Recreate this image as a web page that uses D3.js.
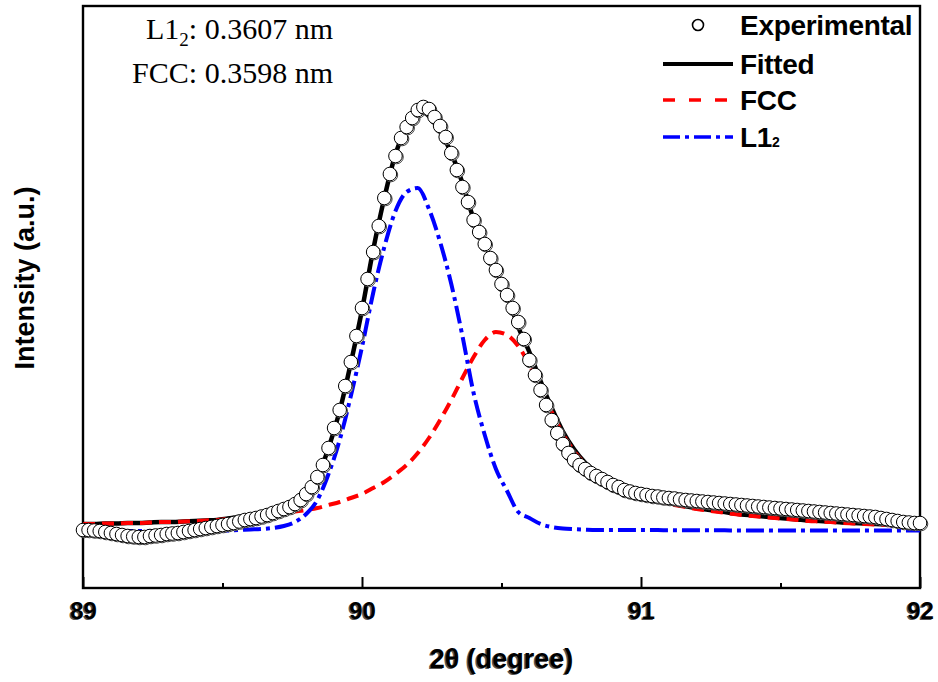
<!DOCTYPE html>
<html>
<head>
<meta charset="utf-8">
<script src="https://cdn.jsdelivr.net/npm/d3@7/dist/d3.min.js"></script>
<style>
  body { margin: 0; background: #fff; }
  svg text { font-family: "Liberation Sans", Arial, sans-serif; }
</style>
</head>
<body>
<div id="chart"></div>
<script>
// measured pattern: 2theta grid starts at 89 with a 0.02 deg step
const expStart = 89, expStep = 0.02;
const experimental = [
  1, 1, 0.5, 0, -1, -2, -3, -4, -5, -5.5,
  -6, -6, -5, -4.5, -4, -3, -2.5, -2, -1, 0,
  1, 2, 3, 4, 5, 6, 7, 8, 9.5, 11,
  12, 13, 14.5, 16, 18, 20, 22, 24, 27, 31,
  37, 44, 54, 66, 83, 103, 121, 145, 169, 195,
  223, 252, 279, 305, 333, 357, 375, 393, 404, 413,
  421, 424, 422, 414, 405, 394, 378, 361, 344, 329,
  311, 299, 287, 273, 261, 247, 236, 223, 209, 192,
  171, 156, 141, 126, 111, 98, 87, 78, 71, 66,
  62, 58, 55, 52, 49, 46, 44, 41, 39.5, 38,
  37, 36, 35, 34.5, 33.5, 33, 32.5, 31.5, 31, 30.5,
  30, 29.5, 29, 28.5, 28, 27.5, 27, 26.5, 26, 25.5,
  25, 24.5, 24, 23.5, 23, 22.5, 22, 21.5, 21, 20.5,
  20, 19.5, 19, 18.5, 18, 17.5, 17, 16.5, 16, 15.5,
  15, 14.5, 14, 13, 12, 11, 10, 9, 8.5, 8, 8
];

// fitted components on a 0.04 deg grid
const fitStart = 89, fitStep = 0.04;
const fccCurve = [
  7, 7, 7.5, 7.5, 8, 8, 8.5, 9, 9, 9.5,
  10, 10.5, 11, 12, 13, 14, 15, 16.5, 18, 19.5,
  21, 23, 26, 29, 33, 37, 43, 49, 57, 66,
  78, 93, 111, 131, 153, 174, 191, 199, 196, 185,
  166, 143, 119, 97, 80, 67, 57, 49, 43, 38,
  34, 31, 28.5, 26, 24, 22, 20.5, 19, 17.5, 16,
  15, 14, 13, 12, 11, 10, 9.5, 9, 8, 7.5,
  7, 6.5, 6, 5.5, 5, 4.5
];
const l12Curve = [
  0, 0, 0, 0, 0, 0, 0, 0, 0, 0,
  0, 0, 0, 0.5, 1, 1.5, 2, 3, 5, 9,
  17, 31, 57, 91, 135, 184, 238, 284, 320, 339,
  343, 322, 289, 247, 195, 138, 96, 62, 40, 19,
  13, 7, 4, 2.5, 1.8, 1.3, 1, 1, 1, 1,
  1, 1, 0.8, 0.8, 0.8, 0.7, 0.7, 0.7, 0.6, 0.6,
  0.6, 0.6, 0.5, 0.5, 0.5, 0.5, 0.5, 0.5, 0.5, 0.5,
  0.5, 0.5, 0.5, 0.5, 0.5, 0.5
];

const xTicks = [89, 90, 91, 92];
const xMinorTicks = [89.5, 90.5, 91.5];
const latticeNotes = [
  { phase: "L1", sub: "2", value: ": 0.3607 nm" },
  { phase: "FCC", sub: "", value: ": 0.3598 nm" }
];
const legendLabels = ["Experimental", "Fitted", "FCC", "L1"];

const width = 938, height = 682;
const plot = { left: 83, right: 920, top: 6, bottom: 588 };

const svg = d3.select("#chart").append("svg")
  .attr("width", width)
  .attr("height", height);

const x = d3.scaleLinear().domain([89, 92]).range([plot.left, plot.right]);
const y = d3.scaleLinear().domain([-57, 525]).range([plot.bottom, plot.top]);

const expPoints = experimental.map((v, i) => ({ t: expStart + i * expStep, v }));
const fccPoints = fccCurve.map((v, i) => ({ t: fitStart + i * fitStep, v }));
const l12Points = l12Curve.map((v, i) => ({ t: fitStart + i * fitStep, v }));
const fitPoints = fccCurve.map((v, i) => ({ t: fitStart + i * fitStep, v: v + l12Curve[i] }));

const line = d3.line()
  .x(d => x(d.t))
  .y(d => y(d.v))
  .curve(d3.curveMonotoneX);

// x axis ticks pointing inward
const xAxis = svg.append("g")
  .attr("transform", `translate(0,${plot.bottom})`)
  .call(d3.axisBottom(x).tickValues(xTicks).tickSize(-11).tickPadding(14).tickFormat(d3.format("d")));
xAxis.select(".domain").remove();
xAxis.selectAll(".tick line").attr("stroke", "#000").attr("stroke-width", 2);
xAxis.selectAll(".tick text")
  .attr("fill", "#000")
  .style("font-size", "24px")
  .style("font-weight", "bold");
xAxis.selectAll(".tick").each(function () {
  const t = d3.select(this).select("text");
  d3.select(this).insert("text", "text")
    .attr("y", t.attr("y")).attr("dy", t.attr("dy"))
    .attr("x", -1.5).attr("transform", "translate(0,0.8)")
    .attr("fill", "#555")
    .attr("text-anchor", "middle")
    .style("font-size", "24px").style("font-weight", "bold")
    .text(t.text());
});

const xMinor = svg.append("g")
  .attr("transform", `translate(0,${plot.bottom})`)
  .call(d3.axisBottom(x).tickValues(xMinorTicks).tickSize(-5).tickFormat(""));
xMinor.select(".domain").remove();
xMinor.selectAll(".tick line").attr("stroke", "#000").attr("stroke-width", 2);

// frame
svg.append("rect")
  .attr("x", plot.left).attr("y", plot.top)
  .attr("width", plot.right - plot.left).attr("height", plot.bottom - plot.top)
  .attr("fill", "none").attr("stroke", "#000").attr("stroke-width", 2.4);

// curves
svg.append("path").datum(fitPoints)
  .attr("d", line).attr("fill", "none")
  .attr("stroke", "#000").attr("stroke-width", 4.5);
svg.append("path").datum(fccPoints)
  .attr("d", line).attr("fill", "none")
  .attr("stroke", "#ff0000").attr("stroke-width", 4)
  .attr("stroke-dasharray", "12,7");
svg.append("path").datum(l12Points)
  .attr("d", line).attr("fill", "none")
  .attr("stroke", "#0000ff").attr("stroke-width", 4)
  .attr("stroke-dasharray", "18,5,4,5");

// experimental points
const dots = svg.append("g").selectAll("g").data(expPoints).join("g")
  .attr("transform", d => `translate(${x(d.t)},${y(d.v)})`);
dots.append("circle").attr("cx", 1).attr("cy", 1).attr("r", 6.8)
  .attr("fill", "#fff").attr("stroke", "#444").attr("stroke-width", 1);
dots.append("circle").attr("r", 6.8)
  .attr("fill", "#fff").attr("stroke", "#000").attr("stroke-width", 1);

// axis titles
const xTitle = "2\u03b8 (degree)";
svg.append("text").attr("x", 500).attr("y", 669).attr("fill", "#555")
  .attr("text-anchor", "middle").style("font-size", "27px").style("font-weight", "bold")
  .text(xTitle);
svg.append("text").attr("x", 501.5).attr("y", 668).attr("fill", "#000")
  .attr("text-anchor", "middle").style("font-size", "27px").style("font-weight", "bold")
  .text(xTitle);

svg.append("text")
  .attr("transform", "translate(34,278) rotate(-90)")
  .attr("text-anchor", "middle")
  .style("font-size", "27px").style("font-weight", "bold")
  .text("Intensity (a.u.)");

// lattice parameter notes
const notes = svg.append("g").selectAll("text").data(latticeNotes).join("text")
  .attr("x", 333).attr("y", (d, i) => 39 + i * 44)
  .attr("text-anchor", "end")
  .style("font-family", "'Liberation Serif', 'Times New Roman', serif")
  .style("font-size", "30px");
notes.append("tspan").text(d => d.phase);
notes.filter(d => d.sub).append("tspan")
  .attr("dy", 7).style("font-size", "19px").text(d => d.sub);
notes.append("tspan").attr("dy", d => d.sub ? -7 : 0).text(d => d.value);

// legend
const legend = svg.append("g");
const rowY = [25, 64, 100, 137];
const symX0 = 663, symX1 = 733, textX = 740;
legend.append("circle").attr("cx", 698).attr("cy", rowY[0]).attr("r", 5.5)
  .attr("fill", "#fff").attr("stroke", "#000").attr("stroke-width", 1.6);
legend.append("line").attr("x1", symX0).attr("x2", symX1).attr("y1", rowY[1]).attr("y2", rowY[1])
  .attr("stroke", "#000").attr("stroke-width", 4);
legend.append("line").attr("x1", symX0).attr("x2", symX1).attr("y1", rowY[2]).attr("y2", rowY[2])
  .attr("stroke", "#ff0000").attr("stroke-width", 3.5).attr("stroke-dasharray", "12,14");
legend.append("line").attr("x1", symX0).attr("x2", symX1).attr("y1", rowY[3]).attr("y2", rowY[3])
  .attr("stroke", "#0000ff").attr("stroke-width", 3.5).attr("stroke-dasharray", "17,5,4,5");

const legendText = legend.selectAll("text.lg").data(legendLabels).join("text")
  .attr("class", "lg")
  .attr("x", textX).attr("y", (d, i) => rowY[i] + 10)
  .style("font-size", "28px").style("font-weight", "bold")
  .style("letter-spacing", "-0.3px")
  .text(d => d);
legendText.filter((d, i) => i === 3).append("tspan")
  .style("font-size", "14px").style("letter-spacing", "0px").text("2");
</script>
</body>
</html>
